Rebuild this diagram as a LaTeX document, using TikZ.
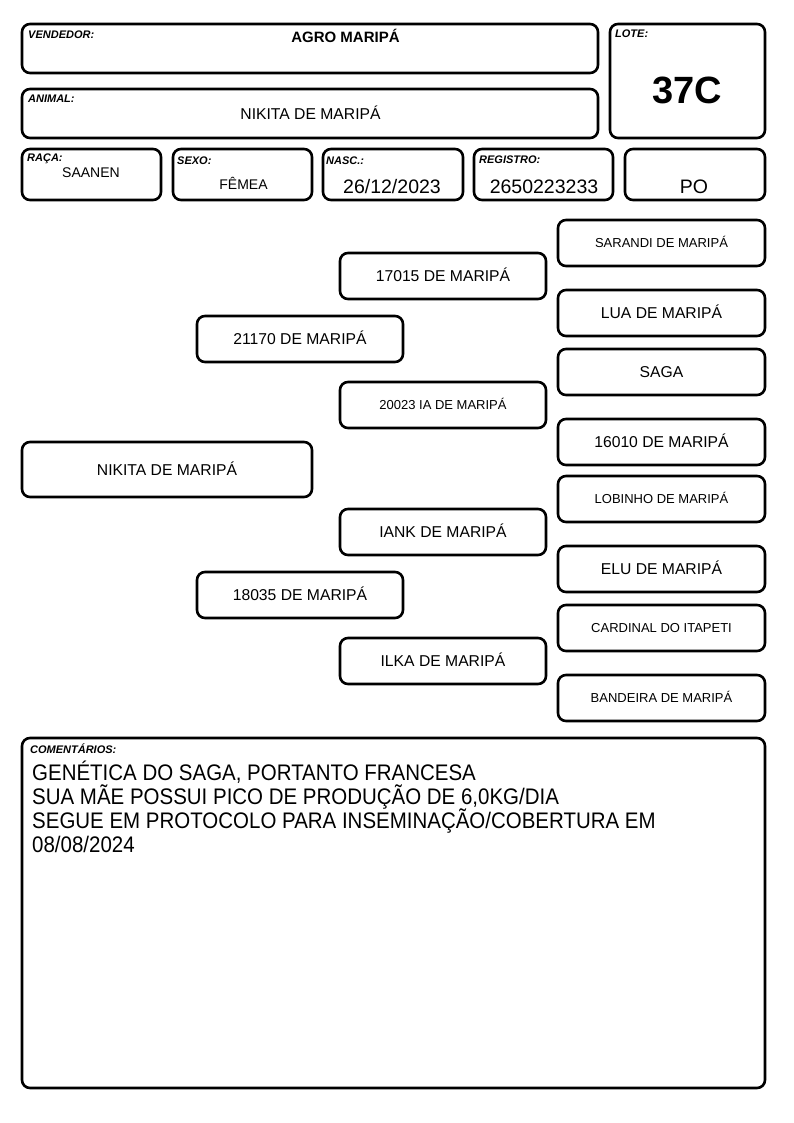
\documentclass[tikz,border=0pt]{standalone}
\usepackage{fontspec}
\setmainfont{Liberation Sans}
\newfontfamily\narrowfont[FakeStretch=0.91]{Liberation Sans}
\begin{document}
\begin{tikzpicture}[x=1pt,y=-1pt,
  box/.style={draw=black,line width=2.6pt,rounded corners=8pt,inner sep=0pt,fill=white,
    text depth=0pt},
  big/.style={font=\fontsize{15.7}{18}\selectfont,text height=11.2pt},
  small/.style={font=\fontsize{13}{15}\selectfont,text height=9.3pt},
  lbl/.style={anchor=base west,inner sep=0pt,font=\fontsize{11}{13}\selectfont\bfseries\itshape},
  val/.style={anchor=base,inner sep=0pt},
  cmt/.style={anchor=base west,inner sep=0pt,font=\fontsize{22.5}{24}\narrowfont}]
\useasboundingbox[fill=white] (0,0) rectangle (794,1123);
\newcommand\cbox[6]{\node[box,#6,minimum width={#4-#2},minimum height={#5-#3}] (#1) at ({(#2+#4)/2},{(#3+#5)/2})}
% header
\cbox{vend}{22}{24}{598}{73}{} {};
\cbox{anim}{22}{89}{598}{138}{} {};
\cbox{lote}{610}{24}{765}{138}{} {};
\cbox{raca}{22}{149}{161}{200}{} {};
\cbox{sexo}{173}{149}{312}{200}{} {};
\cbox{nasc}{323}{149}{463}{200}{} {};
\cbox{reg}{474}{149}{613}{200}{} {};
\cbox{po}{625}{149}{765}{200}{} {};
\node[lbl] (lvend) at (28,39) {VENDEDOR:};
\node[val,font=\fontsize{15}{18}\selectfont\bfseries] (tvend) at (345.5,43) {AGRO MARIPÁ};
\node[lbl] (lanim) at (28,103) {ANIMAL:};
\node[val,font=\fontsize{15.7}{18}\selectfont] (tanim) at (310.5,120) {NIKITA DE MARIPÁ};
\node[lbl] (llote) at (615,38) {LOTE:};
\node[val,font=\fontsize{38}{40}\selectfont\bfseries] (tlote) at (687,104) {37C};
\node[lbl] (lraca) at (27,162) {RAÇA:};
\node[val,font=\fontsize{14}{16}\selectfont] (traca) at (91,178) {SAANEN};
\node[lbl] (lsexo) at (177,165) {SEXO:};
\node[val,font=\fontsize{14}{16}\selectfont] (tsexo) at (243.5,190) {FÊMEA};
\node[lbl] (lnasc) at (326,165) {NASC.:};
\node[val,font=\fontsize{19.5}{22}\selectfont] (tnasc) at (392,194) {26/12/2023};
\node[lbl] (lreg) at (479,164) {REGISTRO:};
\node[val,font=\fontsize{19.5}{22}\selectfont] (treg) at (544,194) {2650223233};
\node[val,font=\fontsize{19.5}{22}\selectfont] (tpo) at (694,194) {PO};
% pedigree
\cbox{p0}{22}{442}{312}{497}{big} {NIKITA DE MARIPÁ};
\cbox{p1}{197}{316}{403}{362}{big} {21170 DE MARIPÁ};
\cbox{p2}{197}{572}{403}{618}{big} {18035 DE MARIPÁ};
\cbox{p3}{340}{253}{546}{299}{big} {17015 DE MARIPÁ};
\cbox{p4}{340}{382}{546}{428}{small} {20023 IA DE MARIPÁ};
\cbox{p5}{340}{509}{546}{555}{big} {IANK DE MARIPÁ};
\cbox{p6}{340}{638}{546}{684}{big} {ILKA DE MARIPÁ};
\cbox{p7}{558}{220}{765}{266}{small} {SARANDI DE MARIPÁ};
\cbox{p8}{558}{290}{765}{336}{big} {LUA DE MARIPÁ};
\cbox{p9}{558}{349}{765}{395}{big} {SAGA};
\cbox{p10}{558}{419}{765}{465}{big} {16010 DE MARIPÁ};
\cbox{p11}{558}{476}{765}{522}{small} {LOBINHO DE MARIPÁ};
\cbox{p12}{558}{546}{765}{592}{big} {ELU DE MARIPÁ};
\cbox{p13}{558}{605}{765}{651}{small} {CARDINAL DO ITAPETI};
\cbox{p14}{558}{675}{765}{721}{small} {BANDEIRA DE MARIPÁ};
% comments
\cbox{com}{22}{738}{765}{1088}{} {};
\node[lbl] (lcom) at (30,753) {COMENTÁRIOS:};
\node[cmt] (c1) at (32,780) {GENÉTICA DO SAGA, PORTANTO FRANCESA};
\node[cmt] (c2) at (32,804.2) {SUA MÃE POSSUI PICO DE PRODUÇÃO DE 6,0KG/DIA};
\node[cmt] (c3) at (32,828.4) {SEGUE EM PROTOCOLO PARA INSEMINAÇÃO/COBERTURA EM};
\node[cmt] (c4) at (32,852.6) {08/08/2024};
\end{tikzpicture}
\end{document}
